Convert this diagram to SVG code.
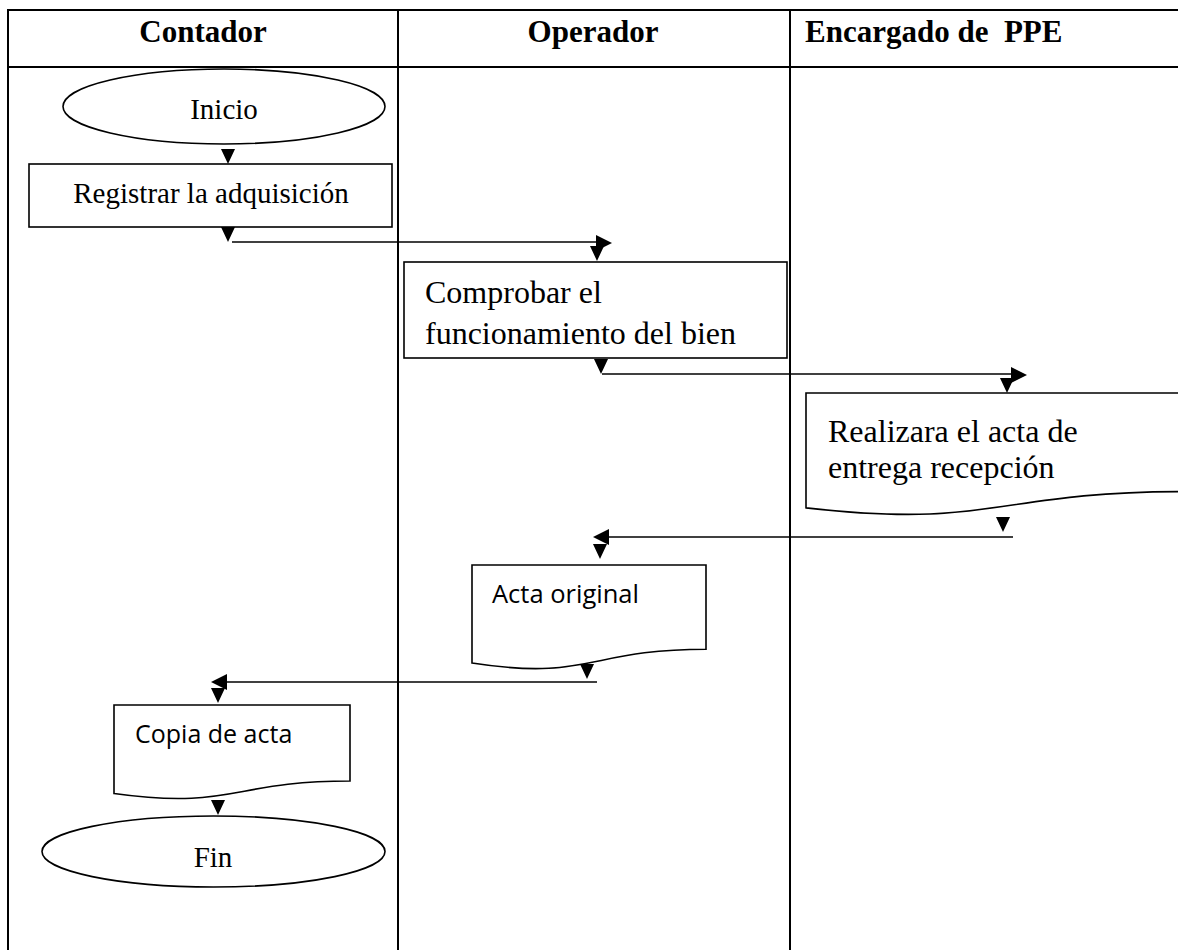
<svg xmlns="http://www.w3.org/2000/svg" xmlns:xlink="http://www.w3.org/1999/xlink" width="1178" height="950" viewBox="0 0 1178 950">
<style>
.grid{stroke:#000;stroke-width:2;fill:none}
.shape{fill:#fff;stroke:#000;stroke-width:1.6}
.hdr{font-family:"Liberation Serif","Times New Roman",serif;font-weight:bold;font-size:31px;fill:#000}
.ser{font-family:"Liberation Serif","Times New Roman",serif;fill:#000}
.sans{font-family:"Open Sans","Noto Sans",sans-serif;fill:#000}
.ln{stroke:#000;stroke-width:1.6;fill:none}
.ah{fill:#000}
</style>
<defs>
<path id="ad" d="M-7,-15 L7,-15 L0,0 Z"/>
<path id="ar" d="M-16,-8 L-16,8 L0,0 Z"/>
<path id="al" d="M16,-8 L16,8 L0,0 Z"/>
</defs>
<rect width="1178" height="950" fill="#fff"/>
<g id="table">
<line class="grid" x1="7" y1="10" x2="1178" y2="10"/>
<line class="grid" x1="7" y1="67" x2="1178" y2="67"/>
<line class="grid" x1="8" y1="9" x2="8" y2="950"/>
<line class="grid" x1="398" y1="9" x2="398" y2="950"/>
<line class="grid" x1="790" y1="9" x2="790" y2="950"/>
<text class="hdr" x="203" y="42" text-anchor="middle">Contador</text>
<text class="hdr" x="593" y="42" text-anchor="middle">Operador</text>
<text class="hdr" x="805" y="42" xml:space="preserve">Encargado de  PPE</text>
</g>
<g id="inicio">
<ellipse class="shape" cx="224" cy="106.5" rx="161" ry="37.5"/>
<text class="ser" x="224" y="119" font-size="29" text-anchor="middle">Inicio</text>
</g>
<g id="registrar">
<rect class="shape" x="29" y="164" width="363" height="63"/>
<text class="ser" x="211" y="203" font-size="29" text-anchor="middle">Registrar la adquisición</text>
</g>
<g id="comprobar">
<rect class="shape" x="404" y="262" width="383" height="96"/>
<text class="ser" x="425" y="303" font-size="32">Comprobar el</text>
<text class="ser" x="425" y="344" font-size="32">funcionamiento del bien</text>
</g>
<g id="realizara">
<path class="shape" d="M806,393 H1183 V491.6 C994.5,491.6 994.5,529.2 806,507.9 Z"/>
<text class="ser" x="828" y="442" font-size="32">Realizara el acta de</text>
<text class="ser" x="828" y="478" font-size="32">entrega recepción</text>
</g>
<g id="acta-original">
<path class="shape" d="M472,565 H706 V649.2 C589,649.2 589,681.2 472,663 Z"/>
<text class="sans" x="492" y="603" font-size="25.5">Acta original</text>
</g>
<g id="copia-acta">
<path class="shape" d="M114,705 H350 V781 C232,781 232,810 114,793.5 Z"/>
<text class="sans" x="135" y="743" font-size="25">Copia de acta</text>
</g>
<g id="fin">
<ellipse class="shape" cx="213.5" cy="851.5" rx="171.5" ry="35.5"/>
<text class="ser" x="213" y="867" font-size="29" text-anchor="middle">Fin</text>
</g>
<g id="connectors">
<use xlink:href="#ad" class="ah" x="228" y="164"/>
<use xlink:href="#ad" class="ah" x="228" y="242"/>
<line class="ln" x1="232" y1="242" x2="600" y2="242"/>
<use xlink:href="#ar" class="ah" x="612" y="243"/>
<use xlink:href="#ad" class="ah" x="597" y="261"/>
<use xlink:href="#ad" class="ah" x="601" y="374"/>
<line class="ln" x1="602" y1="374" x2="1015" y2="374"/>
<use xlink:href="#ar" class="ah" x="1027" y="375"/>
<use xlink:href="#ad" class="ah" x="1007" y="393"/>
<use xlink:href="#ad" class="ah" x="1003" y="532"/>
<line class="ln" x1="1013" y1="537" x2="605" y2="537"/>
<use xlink:href="#al" class="ah" x="593" y="537"/>
<use xlink:href="#ad" class="ah" x="600" y="559"/>
<use xlink:href="#ad" class="ah" x="587" y="679"/>
<line class="ln" x1="597" y1="682" x2="222" y2="682"/>
<use xlink:href="#al" class="ah" x="211" y="682"/>
<use xlink:href="#ad" class="ah" x="218" y="703"/>
<use xlink:href="#ad" class="ah" x="218" y="815"/>
</g>
</svg>
